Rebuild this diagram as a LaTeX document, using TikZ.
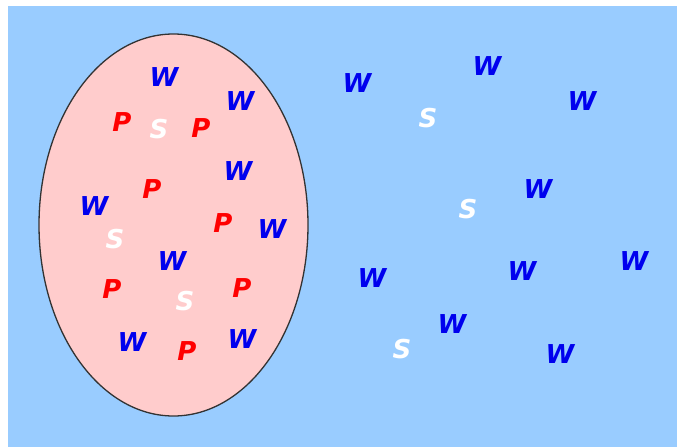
\documentclass[tikz,border=0pt]{standalone}
\usepackage{fontspec}
\usetikzlibrary{shapes.geometric}
\newfontfamily\lettersans{DejaVu Sans}
\definecolor{skyfill}{HTML}{99CCFF}
\definecolor{setfill}{HTML}{FFCCCC}
\definecolor{wblue}{HTML}{0000EE}
\definecolor{pred}{HTML}{FF0000}
\tikzset{
  letter/.style={inner sep=0pt, anchor=center, font=\lettersans\bfseries\itshape\fontsize{26}{26}\selectfont},
  wl/.style={letter, text=wblue},
  pl/.style={letter, text=pred},
  sl/.style={letter, text=white},
}
\begin{document}
\begin{tikzpicture}[x=1pt, y=-1pt]
  \useasboundingbox (0,0) rectangle (677,447);
  % background region
  \fill[skyfill] (8,6) rectangle (677,447);
  % the set
  \node[draw=black!80, line width=1.3pt, fill=setfill, ellipse, minimum width=269pt, minimum height=382pt, inner sep=0pt] (set) at (173.5,225) {};
  % letters inside the set
  \node[wl] (w1) at (164,77) {W};
  \node[wl] (w2) at (240,101) {W};
  \node[pl] (p1) at (122,122) {P};
  \node[sl] (s1) at (159,129) {S};
  \node[pl] (p2) at (201,128) {P};
  \node[wl] (w3) at (238,171) {W};
  \node[pl] (p3) at (152,189) {P};
  \node[wl] (w4) at (94,206) {W};
  \node[pl] (p4) at (223,223) {P};
  \node[wl] (w5) at (272,229) {W};
  \node[sl] (s2) at (115,239) {S};
  \node[wl] (w6) at (172,261) {W};
  \node[pl] (p5) at (112,289) {P};
  \node[sl] (s3) at (185,301) {S};
  \node[pl] (p6) at (242,288) {P};
  \node[wl] (w7) at (132,342) {W};
  \node[pl] (p7) at (187,351) {P};
  \node[wl] (w8) at (242,339) {W};
  % letters outside the set
  \node[wl] (w9) at (357,83) {W};
  \node[wl] (w10) at (487,66) {W};
  \node[sl] (s4) at (428,118) {S};
  \node[wl] (w11) at (582,101) {W};
  \node[wl] (w12) at (538,189) {W};
  \node[sl] (s5) at (468,209) {S};
  \node[wl] (w13) at (634,261) {W};
  \node[wl] (w14) at (372,278) {W};
  \node[wl] (w15) at (522,271) {W};
  \node[wl] (w16) at (452,324) {W};
  \node[sl] (s6) at (402,349) {S};
  \node[wl] (w17) at (560,354) {W};
\end{tikzpicture}
\end{document}
